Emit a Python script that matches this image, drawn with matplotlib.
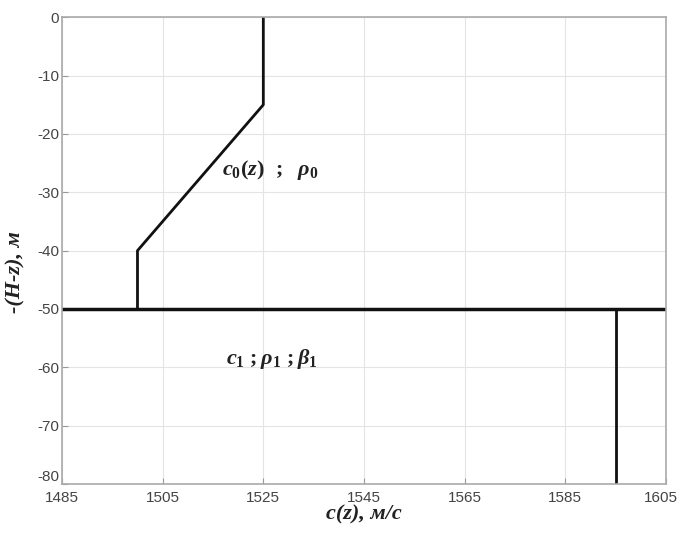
import matplotlib
matplotlib.use('Agg')
import matplotlib.pyplot as plt
import matplotlib.transforms as mtransforms
import numpy as np

# sound speed profile in water layer (c, z)
c_water = [1525, 1525, 1500, 1500]
z_water = [0, -15, -40, -50]
# bottom layer
c_bottom = [1595, 1595]
z_bottom = [-50, -80]
z_interface = -50

x_ticks = [1485, 1505, 1525, 1545, 1565, 1585, 1605]
y_ticks = [0, -10, -20, -30, -40, -50, -60, -70, -80]

plt.rcParams['axes.unicode_minus'] = False
plt.rcParams['mathtext.fontset'] = 'custom'
plt.rcParams['mathtext.rm'] = 'Liberation Serif:bold'
plt.rcParams['mathtext.it'] = 'Liberation Serif:italic:bold'
plt.rcParams['mathtext.bf'] = 'Liberation Serif:bold'

fig = plt.figure(figsize=(6.81, 5.39), dpi=100)
ax = fig.add_axes([0.091, 0.102, 0.887, 0.866])

ax.plot(c_water, z_water, color='#111111', lw=2)
ax.plot(c_bottom, z_bottom, color='#111111', lw=2)
ax.axhline(z_interface, color='#111111', lw=2.5)

ax.set_xlim(1485, 1605)
ax.set_ylim(-80, 0)
ax.set_xticks(x_ticks)
ax.set_yticks(y_ticks)
ax.grid(True, color='#e4e4e4', lw=0.8)
ax.tick_params(direction='in', length=4, colors='#999999', labelcolor='#444444',
               labelsize=11)
for lab in ax.get_xticklabels() + ax.get_yticklabels():
    lab.set_fontfamily('Liberation Sans')
ax.tick_params(axis='x', pad=5)
ax.tick_params(axis='y', pad=2)
# bottom y label sits a bit higher, as in the original
ax.get_yticklabels()[-1].set_va('bottom')
# keep last x label inside the figure
last = ax.get_xticklabels()[-1]
last.set_transform(last.get_transform() +
                   mtransforms.ScaledTranslation(-5 / 100, 0, fig.dpi_scale_trans))
for s in ax.spines.values():
    s.set_color('#aaaaaa')
    s.set_linewidth(1.2)

ax.text(1516.8, -26.2, r'$c_0(z)\ \ ;\ \ \rho_0$', fontsize=16, ha='left', va='center', color='#222222')
ax.text(1517.5, -58.5, r'$c_1\ ;\rho_1\ ;\beta_1$', fontsize=16, ha='left', va='center', color='#222222')

ax.set_xlabel('c(z), м/с', fontsize=16, family='Liberation Serif', style='italic',
              fontweight='bold', color='#222222', labelpad=0)
ax.set_ylabel('-(H-z), м', fontsize=16, family='Liberation Serif', style='italic',
              fontweight='bold', color='#222222', labelpad=0)
ax.yaxis.set_label_coords(-0.06, 0.455)

fig.savefig('out.png', dpi=100)
